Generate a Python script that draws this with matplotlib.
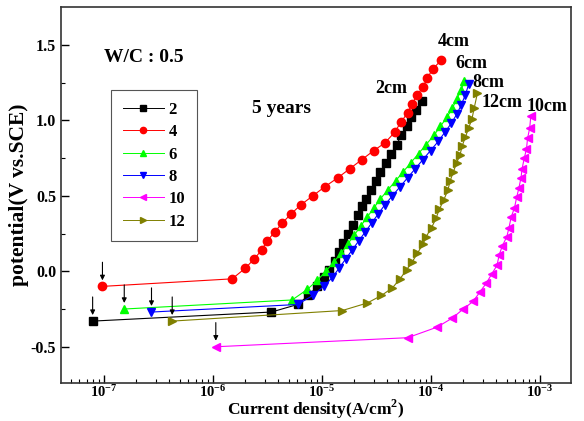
import matplotlib
matplotlib.use("Agg")
import matplotlib.pyplot as plt
import numpy as np

plt.rcParams['font.family'] = ['Liberation Serif', 'DejaVu Serif']
plt.rcParams['font.weight'] = 'bold'
plt.rcParams['mathtext.fontset'] = 'custom'
plt.rcParams['mathtext.rm'] = 'Liberation Serif:bold'
plt.rcParams['axes.unicode_minus'] = False

# log10 of current density (A/cm2) and potential (V vs. SCE) for each depth
logi_2 = [-7.10, -5.46, -5.22, -5.12, -5.04, -4.98, -4.93, -4.88, -4.84, -4.80, -4.76, -4.71, -4.67,
          -4.63, -4.59, -4.55, -4.50, -4.46, -4.41, -4.36, -4.31, -4.27, -4.22, -4.18, -4.13, -4.08]
pot_2 = [-0.33, -0.27, -0.22, -0.16, -0.10, -0.04, 0.01, 0.07, 0.13, 0.19, 0.25, 0.31, 0.37,
         0.43, 0.48, 0.54, 0.60, 0.66, 0.72, 0.78, 0.84, 0.90, 0.96, 1.02, 1.07, 1.13]

logi_4 = [-7.01, -5.82, -5.70, -5.62, -5.55, -5.50, -5.43, -5.36, -5.28, -5.19, -5.08, -4.97, -4.85,
          -4.74, -4.63, -4.52, -4.42, -4.33, -4.27, -4.21, -4.17, -4.12, -4.07, -4.03, -3.98, -3.90]
pot_4 = [-0.10, -0.05, 0.02, 0.08, 0.14, 0.20, 0.26, 0.32, 0.38, 0.44, 0.50, 0.56, 0.62,
         0.68, 0.74, 0.80, 0.85, 0.92, 0.99, 1.05, 1.11, 1.17, 1.22, 1.28, 1.34, 1.40]

logi_6 = [-6.81, -5.27, -5.13, -5.04, -4.96, -4.89, -4.82, -4.76, -4.70, -4.64, -4.58, -4.52, -4.46,
          -4.39, -4.32, -4.25, -4.18, -4.11, -4.04, -3.97, -3.91, -3.85, -3.80, -3.76, -3.72, -3.69]
pot_6 = [-0.25, -0.19, -0.12, -0.06, 0.00, 0.06, 0.12, 0.18, 0.24, 0.30, 0.36, 0.42, 0.48,
         0.54, 0.60, 0.66, 0.72, 0.78, 0.84, 0.90, 0.96, 1.02, 1.08, 1.14, 1.20, 1.26]

logi_8 = [-6.56, -5.22, -5.08, -4.98, -4.90, -4.84, -4.78, -4.72, -4.66, -4.60, -4.54, -4.48, -4.42,
          -4.35, -4.28, -4.21, -4.14, -4.07, -4.00, -3.93, -3.87, -3.81, -3.76, -3.72, -3.68, -3.65]
pot_8 = [-0.27, -0.22, -0.16, -0.10, -0.04, 0.02, 0.08, 0.14, 0.20, 0.26, 0.32, 0.38, 0.44,
         0.50, 0.56, 0.62, 0.68, 0.74, 0.80, 0.86, 0.92, 0.98, 1.04, 1.10, 1.17, 1.24]

logi_10 = [-5.97, -4.21, -3.94, -3.80, -3.70, -3.61, -3.55, -3.49, -3.44, -3.39, -3.37, -3.34, -3.30,
           -3.28, -3.26, -3.23, -3.21, -3.19, -3.17, -3.16, -3.14, -3.12, -3.11, -3.09, -3.08]
pot_10 = [-0.50, -0.44, -0.37, -0.31, -0.25, -0.20, -0.14, -0.08, -0.02, 0.04, 0.11, 0.17, 0.23,
          0.29, 0.36, 0.42, 0.49, 0.55, 0.62, 0.68, 0.75, 0.81, 0.88, 0.95, 1.03]

logi_12 = [-6.37, -4.81, -4.58, -4.45, -4.35, -4.28, -4.22, -4.17, -4.12, -4.07, -4.04, -3.99, -3.95,
           -3.92, -3.88, -3.84, -3.82, -3.79, -3.76, -3.73, -3.71, -3.68, -3.65, -3.62, -3.60, -3.57]
pot_12 = [-0.33, -0.26, -0.21, -0.16, -0.11, -0.05, 0.01, 0.06, 0.12, 0.18, 0.23, 0.29, 0.35,
          0.41, 0.47, 0.54, 0.60, 0.66, 0.72, 0.77, 0.83, 0.89, 0.95, 1.01, 1.08, 1.18]

labels = ['2', '4', '6', '8', '10', '12']
colors = ['black', '#ff0000', '#00ff00', '#0000ff', '#ff00ff', '#808000']
markers = ['s', 'o', '^', 'v', '<', '>']
series = [(logi_2, pot_2), (logi_4, pot_4), (logi_6, pot_6),
          (logi_8, pot_8), (logi_10, pot_10), (logi_12, pot_12)]

end_labels = ['2cm', '4cm', '6cm', '8cm', '10cm', '12cm']
end_label_pos = [(10**-4.51, 1.21), (10**-3.93, 1.52), (10**-3.77, 1.38),
                 (10**-3.62, 1.25), (10**-3.12, 1.09), (10**-3.53, 1.12)]

fig = plt.figure(figsize=(5.84, 4.21), dpi=100)
ax = fig.add_axes([0.1045, 0.0903, 0.8735, 0.8927])

for (li, pv), lab, c, m in zip(series, labels, colors, markers):
    x = 10 ** np.array(li)
    ax.plot(x, pv, color=c, lw=0.8, marker=m, ms=6, mec=c, mfc=c, label=lab)
    # arrow marking the corrosion potential
    ax.annotate('', xy=(x[0], pv[0] + 0.04), xytext=(x[0], pv[0] + 0.16),
                arrowprops=dict(arrowstyle='-|>', color='black', lw=0.8,
                                mutation_scale=7, shrinkA=0, shrinkB=0))

for t, (px, py) in zip(end_labels, end_label_pos):
    ax.text(px, py, t, fontsize=13, fontweight='bold', ha='left', va='center')

ax.text(0.085, 0.867, 'W/C : 0.5', transform=ax.transAxes, fontsize=14,
        fontweight='bold', va='center')
ax.text(0.375, 0.731, '5 years', transform=ax.transAxes, fontsize=14,
        fontweight='bold', va='center')

ax.set_xscale('log')
ax.set_xlim(10**-7.39, 10**-2.71)
ax.set_ylim(-0.74, 1.75)
ax.set_yticks([-0.5, 0.0, 0.5, 1.0, 1.5])
ax.set_yticks([-0.25, 0.25, 0.75, 1.25], minor=True)
ax.set_xticks([1e-7, 1e-6, 1e-5, 1e-4, 1e-3])
ax.tick_params(which='both', direction='in', top=False, right=False, labelsize=11.5)
ax.tick_params(axis='x', pad=1, labelsize=10.5)
ax.tick_params(which='major', length=6, width=1)
ax.tick_params(which='minor', length=3, width=0.8)
for s in ax.spines.values():
    s.set_color('#333333')
    s.set_linewidth(1.2)

ax.set_ylabel('potential(V vs.SCE)', fontsize=15.5, fontweight='bold', labelpad=1)
ax.set_xlabel('Current density(A/cm$^{2}$)', fontsize=12.5, fontweight='bold')
ax.xaxis.label.set_va('bottom')
ax.xaxis.set_label_coords(0.5, -0.1)

leg = ax.legend(loc='upper left', bbox_to_anchor=(0.098, 0.779), borderaxespad=0,
                fontsize=12, handlelength=2.45, handletextpad=0.3, markerscale=0.75,
                fancybox=False, edgecolor='#555555', framealpha=1, labelspacing=0.38,
                borderpad=0.7)
leg.get_frame().set_linewidth(0.8)
for h in leg.get_lines():
    h.set_linewidth(0.7)

fig.savefig('out.png', dpi=100)
